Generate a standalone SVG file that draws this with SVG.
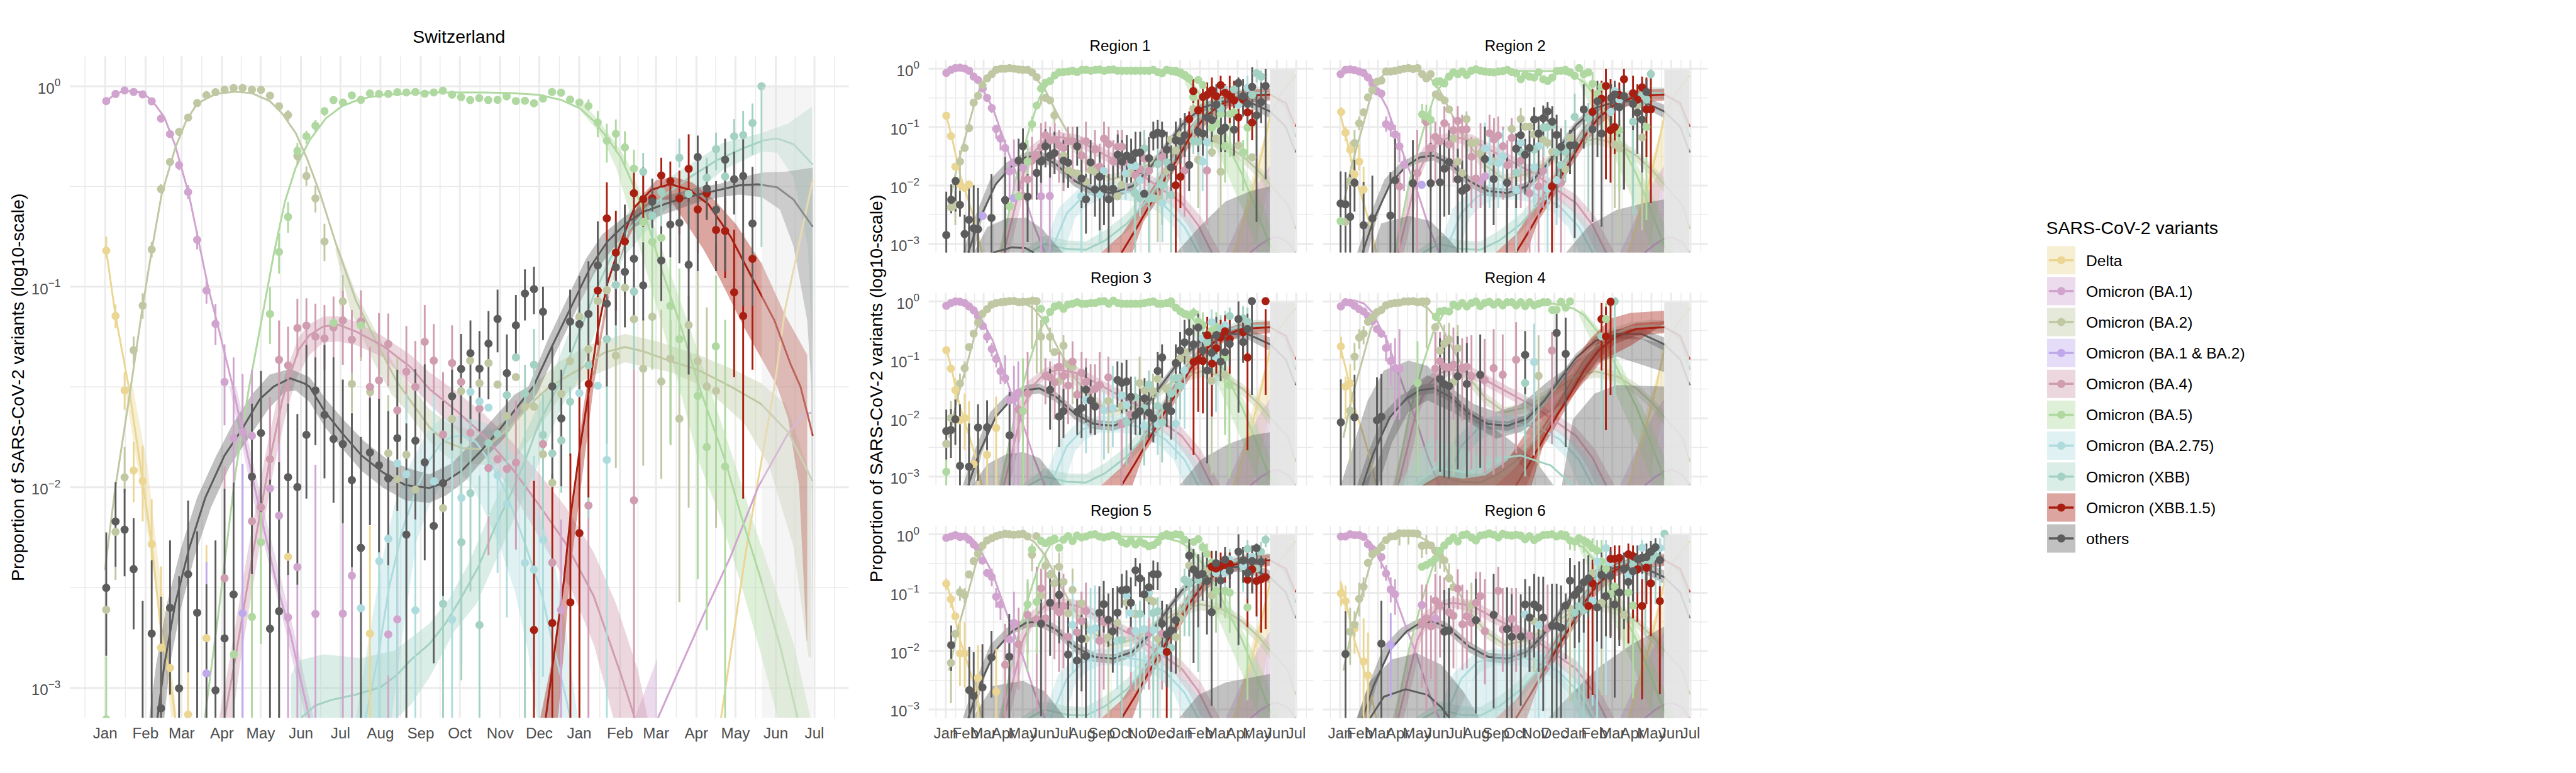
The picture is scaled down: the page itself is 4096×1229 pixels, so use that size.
<svg xmlns="http://www.w3.org/2000/svg" width="4096" height="1229" viewBox="0 0 4096 1229">
<style>
text{font-family:"Liberation Sans",Arial,sans-serif;fill:#4d4d4d;font-size:35.5px}
.t{fill:#000;font-size:41.67px}.rt{fill:#000;text-anchor:middle;font-size:35.5px}.k{fill:#000;font-size:36px}
.m{text-anchor:middle}.y{text-anchor:end}.sp{font-size:25px}
.gM{stroke:#ebebeb;stroke-width:4.4;fill:none}.gm{stroke:#ebebeb;stroke-width:2.2;fill:none}
.b,.d,.l{fill:none;vector-effect:non-scaling-stroke}
.b{stroke-width:2.9}.d{stroke-width:13;stroke-linecap:round}.l{stroke-width:3;stroke-linejoin:round}
.s0{stroke:#ebd694}.s1{stroke:#d0a4cf}.s2{stroke:#bfc8a3}.s3{stroke:#bfa8eb}.s4{stroke:#cf9cb0}.s5{stroke:#afd9a0}.s6{stroke:#aedcde}.s7{stroke:#a3d1c3}.s8{stroke:#a81f12}.s9{stroke:#5c5c5c}
.r0{fill:#ebd694;opacity:.4}.r1{fill:#d0a4cf;opacity:.4}.r2{fill:#bfc8a3;opacity:.4}.r4{fill:#cf9cb0;opacity:.4}.r5{fill:#afd9a0;opacity:.4}.r6{fill:#aedcde;opacity:.4}.r7{fill:#a3d1c3;opacity:.4}.r8{fill:#a81f12;opacity:.4}.r9{fill:#5c5c5c;opacity:.38}
.ov{fill:#e3e3e3;opacity:.35}.ovr{fill:#e3e3e3;opacity:.9}
</style>
<defs>
<clipPath id="cm"><rect x="163" y="131" width="1814" height="1541"/></clipPath>
<clipPath id="c1"><rect x="2163" y="140" width="896" height="448.5"/></clipPath>
<clipPath id="c2"><rect x="3081.5" y="140" width="896" height="448.5"/></clipPath>
<clipPath id="c3"><rect x="2163" y="682" width="896" height="448.5"/></clipPath>
<clipPath id="c4"><rect x="3081.5" y="682" width="896" height="448.5"/></clipPath>
<clipPath id="c5"><rect x="2163" y="1224.5" width="896" height="448"/></clipPath>
<clipPath id="c6"><rect x="3081.5" y="1224.5" width="896" height="448"/></clipPath>
<g id="rg">
<path class="gm" d="M2180 140V588M2226 140V588M2270 140V588M2314 140V588M2360 140V588M2405 140V588M2451 140V588M2497 140V588M2543 140V588M2588 140V588M2634 140V588M2680 140V588M2726 140V588M2772 140V588M2816 140V588M2860 140V588M2905 140V588M2951 140V588M2997 140V588M3043 140V588M2163 228H3059M2163 364H3059M2163 500H3059"/>
<path class="gM" d="M2203 140V588M2249 140V588M2291 140V588M2337 140V588M2382 140V588M2428 140V588M2474 140V588M2520 140V588M2566 140V588M2611 140V588M2657 140V588M2702 140V588M2749 140V588M2795 140V588M2837 140V588M2883 140V588M2928 140V588M2974 140V588M3019 140V588M2163 160H3059M2163 296H3059M2163 432H3059M2163 568H3059"/>
</g>
<g id="rc">
<path class="r0" d="M1370 1362L1440 900 1502 570V850L1480 1100 1440 1362Z"/>
<path class="r1" d="M1340 1362L1400 1150 1460 950 1502 850V1362Z"/>
<path class="r2" d="M760 640L850 820 920 900 1000 870 1100 770 1180 690 1250 660 1330 690 1400 760 1460 850 1502 920V1010L1460 920 1400 830 1330 755 1250 725 1180 755 1100 835 1000 935 920 960 850 890 760 720Z"/>
<path class="r4" d="M510 1362L550 1100 580 900 620 745 680 670 730 650 800 665 870 725 950 795 1030 865 1100 940 1180 1020 1250 1150 1320 1362H1255L1210 1220 1160 1110 1090 1020 1020 935 950 865 870 795 800 735 730 710 680 735 640 800 610 920 590 1100 550 1362Z"/>
<path class="r5" d="M1200 320L1270 450 1340 640 1420 900 1480 1100 1540 1362H1460L1400 1100 1320 800 1250 560 1190 360Z"/>
<path class="r6" d="M670 1362L730 1100 800 990 880 950 960 950 1040 970 1130 1050 1200 1150 1260 1270 1300 1362H1190L1150 1210 1100 1130 1040 1070 960 1050 880 1050 830 1090 790 1160 750 1362Z"/>
<path class="r7" d="M590 1362L680 1260 760 1290 830 1295 900 1230 980 1130 1050 990 1120 840 1180 670 1240 530 1300 440 1380 400 1460 385 1502 390V460L1460 455 1380 465 1300 530 1240 620 1180 770 1120 940 1060 1090 980 1240 900 1340 880 1362Z"/>
<path class="r8" d="M885 1362L960 1255 1020 1110 1080 960 1140 800 1200 640 1260 520 1320 450 1400 405 1502 395V465L1400 480 1320 530 1260 620 1210 730 1160 860 1100 1030 1040 1180 1000 1362Z"/>
<path class="r9" d="M380 1362L420 1170 480 930 540 830 610 770 660 762 720 810 790 910 860 975 930 985 1000 945 1060 845 1120 715 1180 585 1250 485 1330 440 1420 440 1502 490V570L1420 500 1330 500 1250 535 1180 640 1120 770 1060 900 1000 1000 930 1040 860 1030 790 975 720 870 660 820 610 830 540 880 490 990 450 1170 420 1362Z"/>
<path class="l s0" d="M320 555L340 680 370 900 400 1050 430 1210 450 1362M1370 1362L1430 1050 1475 760 1502 560 1540 430 1595 318"/>
<path class="l s1" d="M320 305L340 282 370 272 405 290 435 340 460 420 490 510 520 650 560 830 600 1000 640 1200 680 1362M1430 1362L1470 1310 1502 1280 1530 1270 1568 1300 1595 1362"/>
<path class="l s2" d="M330 1080L360 850 400 620 430 440 460 340 490 295 540 280 600 285 640 320 680 400 730 560 790 730 850 850 920 930 1000 900 1100 800 1180 720 1250 690 1330 720 1400 790 1460 880 1502 960 1568 1080 1595 1222"/>
<path class="l s5" d="M520 1362L570 950 620 650 660 450 700 340 750 300 850 290 1100 292 1170 320 1210 360 1260 460 1320 640 1400 900 1450 1100 1502 1320 1520 1362"/>
<path class="l s4" d="M530 1362L570 1100 600 900 640 770 680 700 730 680 800 700 870 760 950 830 1030 900 1100 980 1180 1070 1240 1200 1290 1362"/>
<path class="l s6" d="M700 1362L760 1130 820 1030 880 1000 960 1000 1040 1020 1120 1090 1190 1210 1240 1362"/>
<path class="l s7" d="M620 1362L680 1310 760 1340 830 1345 900 1290 980 1190 1060 1040 1120 890 1180 720 1240 570 1300 480 1380 430 1460 420 1502 425 1560 500 1595 680"/>
<path class="l s8" d="M960 1362L1010 1230 1060 1090 1110 950 1160 820 1210 680 1260 570 1320 490 1400 440 1502 430 1560 480 1595 620"/>
<path class="l s9" d="M400 1362L440 1170 500 960 560 850 610 800 660 790 720 840 790 940 860 1000 930 1010 1000 970 1060 870 1120 740 1180 610 1250 510 1330 470 1420 470 1502 530 1560 620 1595 772"/>
</g>
</defs>
<g transform="scale(.68267)">
<g id="main-grid">
<path class="gm" d="M198 131V1672M292 131V1672M381 131V1672M470 131V1672M562 131V1672M654 131V1672M747 131V1672M840 131V1672M933 131V1672M1025 131V1672M1118 131V1672M1210 131V1672M1303 131V1672M1397 131V1672M1486 131V1672M1575 131V1672M1667 131V1672M1760 131V1672M1852 131V1672M1944 131V1672M163 434.5H1977M163 901H1977M163 1368.5H1977"/>
<path class="gM" d="M245 131V1672M339 131V1672M423 131V1672M517 131V1672M607 131V1672M701 131V1672M793 131V1672M886 131V1672M980 131V1672M1071 131V1672M1165 131V1672M1256 131V1672M1349 131V1672M1444 131V1672M1528 131V1672M1622 131V1672M1713 131V1672M1807 131V1672M1897 131V1672M163 201H1977M163 667.6H1977M163 1134.8H1977M163 1602H1977"/>
</g>
<g id="main-panel" clip-path="url(#cm)"><g transform="scale(.6378,.574)">
<path class="r0" d="M485 1568L540 1900 575 2250 610 2550 645 2900 625 2913 590 2560 545 2210 510 1950 455 1568Z"/>
<path class="r1" d="M838 1568L935 2078 1045 2568 1115 2913H1145L1075 2568 965 2078 862 1568ZM2318 2913L2400 2673V2913Z"/>
<path class="r2" d="M1230 985L1300 1190 1380 1360 1450 1500 1500 1565 1568 1660 1640 1720 1720 1745 1800 1745 1880 1670 1960 1550 2040 1470 2150 1400 2282 1355 2400 1385 2550 1440 2680 1500 2780 1555 2870 1640 2963 1938V2668H2953L2898 2218 2808 1888 2718 1718 2648 1648 2568 1568 2450 1510 2282 1470 2150 1530 2040 1620 1960 1750 1880 1860 1800 1890 1720 1880 1640 1860 1568 1790 1480 1660 1430 1600 1360 1460 1280 1260 1225 1015Z"/>
<path class="r4" d="M800 2913L840 2668 900 2268 965 1868 1010 1628 1050 1490 1090 1370 1130 1315 1180 1285 1235 1283 1300 1305 1400 1365 1500 1440 1568 1510 1668 1590 1768 1680 1868 1790 1968 1920 2068 2060 2168 2240 2250 2450 2330 2720 2365 2913H2240L2170 2620 2090 2400 1990 2220 1890 2030 1790 1870 1690 1770 1568 1640 1500 1560 1400 1450 1300 1400 1235 1385 1180 1390 1130 1440 1080 1540 1040 1700 1000 1900 940 2268 880 2668 850 2913Z"/>
<path class="r5" d="M2120 410L2180 480 2235 560 2285 640 2330 760 2385 900 2445 1100 2520 1330 2590 1568 2680 1868 2745 2098 2820 2348 2900 2618 2960 2913H2840L2770 2618 2700 2348 2630 2098 2550 1868 2480 1568 2420 1330 2360 1100 2310 900 2250 680 2190 540 2120 450Z"/>
<path class="r6" d="M1300 2913L1360 2500 1400 2250 1440 2050 1490 1900 1568 1740 1610 1700 1688 1685 1780 1720 1880 1850 1960 2050 2020 2250 2060 2500 2110 2913H1960L1930 2650 1880 2400 1830 2230 1780 2100 1720 1960 1680 1920 1620 1950 1568 2050 1520 2200 1480 2500 1430 2913Z"/>
<path class="r7" d="M1062 2913V2740L1090 2680 1180 2655 1320 2670 1440 2640 1568 2530 1640 2430 1710 2290 1790 2080 1860 1900 1950 1680 2000 1568 2060 1400 2130 1200 2190 1040 2260 900 2340 810 2430 730 2530 660 2640 580 2782 540 2880 500 2966 432V1400L2950 1000 2898 720 2838 620 2782 615 2640 690 2530 790 2430 850 2350 950 2280 1040 2220 1170 2190 1300 2100 1568 2050 1650 1960 1900 1880 2100 1800 2300 1740 2450 1660 2560 1568 2750 1500 2860 1450 2913Z"/>
<path class="r8" d="M2038 2913L2088 2268 2168 1568 2193 1400 2228 1180 2288 960 2338 800 2398 730 2458 718 2528 740 2608 810 2688 910 2782 1070 2868 1280 2948 1440V2600H2946L2918 1968 2878 1698 2838 1568 2718 1330 2628 1130 2568 1010 2508 910 2448 810 2398 810 2348 850 2298 960 2248 1100 2208 1250 2168 1500 2143 1568 2128 1668 2078 2168 2018 2668 1973 2913Z"/>
<path class="r9" d="M545 2913L570 2698 610 2448 660 2228 720 2018 790 1848 850 1720 920 1600 985 1520 1060 1497 1130 1530 1190 1620 1260 1710 1330 1790 1410 1860 1490 1900 1568 1925 1650 1880 1720 1800 1800 1700 1880 1600 1930 1568 2000 1380 2068 1220 2140 1050 2200 950 2280 880 2350 830 2450 790 2550 760 2630 745 2700 722 2782 700 2868 697 2968 680V2913L2963 1568 2948 1300 2898 1000 2848 850 2782 800 2700 790 2630 800 2550 820 2450 860 2360 895 2290 940 2230 1020 2170 1110 2100 1270 2030 1430 1960 1600 1910 1670 1840 1780 1770 1860 1700 1950 1630 2010 1568 2040 1480 2030 1400 1980 1320 1910 1250 1820 1185 1730 1130 1630 1080 1585 1040 1590 980 1660 900 1790 840 1890 770 2060 710 2260 660 2470 620 2700 600 2913Z"/>
<path class="l s0" d="M388 1017L422 1282 470 1568 521 1952 554 2208 588 2560 621 2750 640 2913M2633 2913L2728 2208 2828 1568 2868 1250 2968 730"/>
<path class="l s1" d="M388 410L422 381 455 368 521 375 560 415 600 475 640 590 690 790 720 950 760 1165 800 1340 850 1568 885 1748 950 2078 1010 2368 1060 2568 1100 2768 1130 2913M2403 2913L2468 2748 2568 2498 2668 2258 2768 1978 2878 1758 2938 1678 2963 1675"/>
<path class="l s2" d="M383 2313L420 1988 478 1568 520 1250 555 1010 590 790 640 600 680 490 720 420 790 380 860 372 920 378 985 410 1030 460 1080 540 1120 640 1170 790 1230 1000 1300 1220 1380 1400 1450 1550 1500 1628 1568 1733 1628 1793 1688 1818 1768 1823 1868 1728 1948 1628 2008 1568 2128 1490 2208 1430 2282 1408 2348 1425 2448 1465 2548 1500 2668 1568 2778 1638 2878 1753 2968 1953"/>
<path class="l s4" d="M820 2913L860 2668 920 2268 985 1868 1030 1628 1055 1535 1090 1420 1130 1360 1180 1325 1235 1317 1300 1345 1400 1405 1500 1490 1568 1578 1668 1668 1768 1768 1868 1898 1968 2048 2068 2208 2168 2418 2268 2738 2318 2913"/>
<path class="l s5" d="M748 2913L800 2468 860 1918 910 1568 960 1270 1000 1030 1040 820 1080 680 1130 570 1190 480 1250 430 1320 400 1400 385 1568 375 1768 375 1868 378 1968 385 2048 405 2118 440 2168 490 2218 560 2268 640 2308 740 2358 880 2418 1100 2488 1330 2553 1568 2648 1868 2708 2098 2778 2348 2848 2618 2913 2913"/>
<path class="l s6" d="M1335 2913L1380 2668 1420 2388 1470 2148 1520 1988 1568 1868 1608 1803 1648 1773 1688 1768 1738 1793 1798 1888 1848 1998 1918 2208 1978 2408 2018 2608 2058 2788 2083 2913"/>
<path class="l s7" d="M1100 2913L1150 2863 1210 2840 1300 2818 1390 2788 1450 2738 1500 2678 1568 2613 1628 2528 1688 2418 1748 2298 1808 2138 1868 1998 1918 1868 1968 1718 2038 1568 2108 1370 2168 1200 2228 1050 2288 940 2348 870 2428 790 2518 720 2618 650 2718 600 2788 570 2838 562 2898 585 2968 668"/>
<path class="l s8" d="M1993 2913L2028 2618 2058 2368 2083 2098 2118 1818 2153 1568 2183 1340 2218 1150 2268 980 2318 840 2378 770 2448 747 2518 770 2588 830 2668 960 2748 1130 2828 1300 2888 1480 2923 1568 2953 1698 2968 1768"/>
<path class="l s9" d="M575 2913L600 2698 640 2448 690 2228 750 2018 820 1848 880 1748 950 1618 1000 1568 1060 1535 1110 1555 1130 1568 1185 1668 1250 1758 1320 1848 1400 1918 1480 1968 1568 1980 1618 1960 1688 1908 1758 1828 1828 1738 1898 1638 1948 1568 2018 1400 2088 1240 2158 1080 2218 980 2288 905 2348 860 2448 820 2548 790 2628 770 2698 752 2768 748 2838 760 2898 810 2968 920"/>
<path class="b s0" d="M388 960V1048M422 1235V1332M455 1510V1663M488 1793V2038M521 1808V2116M554 2026V2273M588 2298V2913M621 2640V2821M687 2728V2913M754 2211V2300M1351 2133V2913"/>
<path class="b s1" d="M654 650V690M687 750V808M720 938V1012M754 1128V1232M787 1233V1400M820 1397V1726M853 1450V1958M886 1518V1790M920 1500V1800M986 1611V2000M1019 1716V2300M1052 2333V2913M1086 2373V2913M1152 1886V2913M1252 2123V2913M1285 2301V2913M1418 2296V2913M1451 2338V2913M2049 2108V2913"/>
<path class="b s2" d="M422 2300V2353M455 1814V2000M488 1365V1480M521 1190V1293M554 982V1045M588 747V785M1052 447V490M1086 605V670M1119 675V755M1152 752V862M1185 908V1060M1252 1115V1330M1318 1230V1465M1285 1510V1673M1418 1603V2343M1451 1450V2340M2249 1330V1898M2349 1290V1890M2415 1256V1943M2449 1300V1806M2481 1568V2443M2515 1200V2060M2548 1100V1700M2581 1247V1800M2615 1568V2141"/>
<path class="b s3" d="M754 2280V2371M886 1883V2913"/>
<path class="b s4" d="M1019 1300V1800M1052 1325V1640M1086 1212V1445M1119 1210V1445M1152 1232V1510M1185 1238V1500M1218 1203V1452M1252 1180V1480M1285 1258V1512M1318 1178V1450M1351 1408V1700M1384 1270V1620M1418 1272V1568M1484 1323V1700M1517 1383V1760M1551 1238V1568M820 1893V1983M920 1920V2330M986 1611V1943M1584 1315V1600M1651 1320V1600M1618 1510V1850M1718 1568V1850M1784 2093V2253M1884 1625V2230M2315 1430V2913M2149 2018V2913"/>
<path class="b s5" d="M388 2663V2913M854 2600V2913M920 2331V2913M953 2076V2613M986 1165V1395M1019 945V1110M1052 820V945M1086 580V645M1119 530V583M1152 487V535M1185 435V470M2149 403V450M2183 450V557M2216 502V660M2249 485V615M2282 533V680M2315 608V760M2349 780V980M2382 925V1500M2415 880V1200M2448 1048V1800M2481 1090V1600M2548 1568V2350M2581 1568V2558M2615 1118V2000M2648 1298V2913"/>
<path class="b s6" d="M1384 2190V2913M1418 2295V2740M1451 2075V2913M1318 2300V2913M1484 1600V2913M1517 2110V2913M1651 1700V2913M1585 1600V2000M1685 1720V2700M1817 1900V2325M1851 1840V2505M1917 2000V2913M1950 1850V2300M1983 1860V2745M2116 1600V1650M2216 1568V2913"/>
<path class="b s7" d="M1618 1900V2913M1685 1730V2760M1718 1600V2400M1751 1930V2913M1784 1800V2090M1851 1650V2300M1917 1480V2913M1950 1335V1640M1983 1600V2150M2017 1800V2050M2050 1570V2000M2082 1568V1850M2149 1700V2100M2216 1400V1800M2249 1000V1400M2315 1100V1500M2349 620V800M2382 800V1000M2415 790V920M2481 563V680M2515 800V1100M2581 640V800M2615 538V690M2648 620V780M2681 483V870M2714 450V700M2748 420V628M2781 350V1002"/>
<path class="b s8" d="M2183 1000V1400M2216 740V1180M2249 855V1260M2282 832V1200M2315 700V1000M2349 680V920M2415 640V790M2448 655V830M2481 692V950M2515 545V820M2548 750V1025M2581 750V892M2615 990V1100M2648 800V1128M2681 932V1530M2714 945V2023M2748 1240V1500M1950 1951V2913M2017 1923V2913M2083 1840V2913M2116 1568V2913M2149 1400V2018"/>
<path class="b s9" d="M388 2160V2661M422 1956V2300M455 1983V2338M488 2103V2553M521 2438V2913M554 2273V2913M588 2421V2913M621 2193V2818M654 2338V2913M687 2031V2728M720 2156V2913M754 2371V2913M787 2193V2913M820 1983V2913M853 1958V2913M920 1638V2330M953 1505V2078M986 1946V2913M1019 1876V2913M1052 1638V2333M1086 1680V2373M1119 1400V2023M1152 1450V1806M1185 1400V1941M1218 1450V2040M1252 1540V2123M1285 1676V2301M1318 1773V2913M1351 1615V2131M1384 1618V2241M1418 1668V2293M1451 1500V2073M1484 1718V2913M1517 1498V2108M1551 1478V2273M1584 1758V2691M1618 1628V2418M1651 1500V1828M1684 1355V1800M1718 1300V1700M1751 1343V1750M1784 1262V1620M1817 1175V1430M1851 1357V1700M1884 1197V1450M1917 1093V1300M1950 1082V1275M1983 1163V1380M2017 1400V1974M2050 1500V1973M2082 1175V1430M2116 1120V1600M2149 1060V1500M2183 898V1200M2216 975V1568M2249 898V1320M2282 830V1328M2315 860V1300M2349 983V1300M2382 725V925M2415 918V1222M2448 770V1045M2481 780V1068M2515 805V1520M2548 550V1100M2581 675V892M2615 735V1100M2648 563V1100M2681 615V870M2714 565V1240M2748 677V1240"/>
<path class="d s0" d="M388 1017h0M422 1282h0M455 1584h0M488 1909h0M521 1952h0M554 2208h0M588 2628h0M621 2710h0M687 2899h0M754 2589h0M1052 2259h0M1351 2571h0"/>
<path class="d s1" d="M388 410h0M422 381h0M455 367h0M488 373h0M521 383h0M554 411h0M588 481h0M621 544h0M654 670h0M687 779h0M720 973h0M754 1179h0M787 1314h0M820 1550h0M853 1778h0M886 1754h0M920 1768h0M986 1982h0M1019 2092h0M1052 2505h0M1086 2301h0M1152 2491h0M1252 2490h0M1285 2336h0M1418 2574h0M1451 2513h0M2049 2475h0"/>
<path class="d s2" d="M388 2474h0M422 2158h0M455 1937h0M488 1421h0M521 1240h0M554 1012h0M588 767h0M621 657h0M654 535h0M687 477h0M720 418h0M754 386h0M787 374h0M820 364h0M853 357h0M886 357h0M920 364h0M953 365h0M986 388h0M1019 431h0M1052 467h0M1086 633h0M1119 714h0M1152 805h0M1185 980h0M1252 1223h0M1318 1318h0M1285 1558h0M1352 1590h0M1418 1839h0M1451 1944h0M1484 1845h0M1517 1986h0M1618 2062h0M1651 1700h0M1684 1587h0M1717 1463h0M1751 1555h0M1784 1473h0M1817 1560h0M1851 1688h0M1884 1530h0M1917 1651h0M1950 1650h0M1983 1843h0M2017 1959h0M2050 1598h0M2082 1465h0M2116 1285h0M2149 1417h0M2183 1221h0M2216 1178h0M2249 1443h0M2282 1167h0M2315 1295h0M2349 1496h0M2382 1285h0M2415 1548h0M2448 1455h0M2481 1699h0M2515 1319h0M2548 1465h0M2581 1568h0M2615 1586h0"/>
<path class="d s3" d="M754 2732h0M886 2488h0"/>
<path class="d s4" d="M1019 1460h0M1052 1483h0M1086 1331h0M1119 1321h0M1152 1366h0M1185 1373h0M1218 1329h0M1252 1300h0M1285 1378h0M1318 1304h0M1351 1570h0M1384 1543h0M1418 1396h0M1484 1508h0M1517 1570h0M1551 1387h0M820 2346h0M920 2115h0M953 2058h0M986 1863h0M1451 1665h0M1584 1463h0M1651 1473h0M1684 1550h0M1618 1763h0M1718 1756h0M1751 1658h0M1784 1899h0M1817 1863h0M1851 1903h0M1884 1877h0M1983 1802h0M2017 2283h0M2149 2051h0M2315 2030h0"/>
<path class="d s5" d="M388 2918h0M854 2655h0M920 2503h0M953 2200h0M986 1274h0M1019 1022h0M1052 880h0M1086 612h0M1119 553h0M1152 510h0M1185 451h0M1218 406h0M1252 416h0M1285 387h0M1318 405h0M1351 379h0M1384 381h0M1418 381h0M1451 374h0M1484 375h0M1517 373h0M1551 380h0M1218 1310h0M1318 1320h0M1584 375h0M1617 368h0M1651 384h0M1684 394h0M1717 406h0M1750 398h0M1783 406h0M1817 405h0M1850 391h0M1884 410h0M1917 409h0M1950 419h0M1983 400h0M2016 373h0M2049 376h0M2082 404h0M2116 416h0M2149 430h0M2183 497h0M2216 571h0M2249 543h0M2282 598h0M2315 684h0M2349 900h0M2382 981h0M2415 965h0M2448 1241h0M2481 1376h0M2548 1606h0M2581 1814h0M2614 1405h0M2648 1893h0"/>
<path class="d s6" d="M1418 2186h0M1385 2277h0M1318 2468h0M1451 1880h0M1484 1924h0M1517 2476h0M1585 1953h0M1651 2514h0M1685 2020h0M1718 1590h0M1751 1629h0M1784 1654h0M1817 1928h0M1851 2046h0M1917 2284h0M1950 2311h0M1983 2190h0M2116 1595h0M2183 1565h0M2216 1866h0"/>
<path class="d s7" d="M1618 2450h0M1685 2200h0M1718 2001h0M1751 2536h0M1784 1798h0M1817 1761h0M1851 1603h0M1884 1450h0M1917 1596h0M1950 1480h0M1983 1765h0M2017 1840h0M2050 1787h0M2082 1630h0M2149 1482h0M2216 1376h0M2249 1156h0M2315 1183h0M2349 697h0M2382 875h0M2415 778h0M2481 640h0M2515 787h0M2581 721h0M2615 605h0M2648 716h0M2681 553h0M2714 548h0M2748 499h0M2781 350h0"/>
<path class="d s8" d="M2150 1558h0M2183 1179h0M2216 886h0M2249 1025h0M2282 980h0M2315 784h0M2349 808h0M2382 805h0M2415 712h0M2448 735h0M2481 805h0M2515 685h0M2548 850h0M2581 785h0M2615 933h0M2648 937h0M2681 1186h0M2714 1282h0M2748 1050h0M1950 2556h0M2017 2528h0M2083 2444h0M2116 2163h0"/>
<path class="d s9" d="M388 2385h0M422 2116h0M455 2149h0M488 2309h0M554 2571h0M588 2874h0M621 2466h0M654 2793h0M687 2330h0M720 2486h0M787 2801h0M820 2590h0M853 2412h0M920 1934h0M953 1757h0M986 2551h0M1019 2480h0M1052 1936h0M1086 1976h0M1119 1764h0M1152 1584h0M1185 1683h0M1218 1781h0M1252 1802h0M1285 1948h0M1318 2223h0M1351 1836h0M1384 1888h0M1418 1941h0M1451 1778h0M1484 2169h0M1517 1788h0M1551 1876h0M1584 2134h0M1618 1960h0M1651 1608h0M1684 1497h0M1718 1433h0M1751 1496h0M1784 1394h0M1817 1294h0M1851 1514h0M1884 1320h0M1917 1191h0M1950 1173h0M1983 1265h0M2017 1568h0M2050 1698h0M2082 1305h0M2116 1315h0M2149 1274h0M2183 1077h0M2216 1232h0M2249 1085h0M2282 1103h0M2315 1050h0M2349 1158h0M2382 818h0M2415 1057h0M2448 911h0M2481 904h0M2515 1074h0M2548 637h0M2581 765h0M2615 851h0M2648 648h0M2681 727h0M2714 714h0M2748 907h0"/>
</g><rect class="ov" x="1774" y="202" width="118" height="1470"/></g>
<g id="main-text">
<text class="t m" x="1069" y="99">Switzerland</text>
<text class="t m" transform="translate(55 902) rotate(-90)">Proportion of SARS-CoV-2 variants (log10-scale)</text>
<text class="y" x="141" y="218">10<tspan class="sp" dy="-17">0</tspan></text>
<text class="y" x="141" y="685">10<tspan class="sp" dy="-17">−1</tspan></text>
<text class="y" x="141" y="1152">10<tspan class="sp" dy="-17">−2</tspan></text>
<text class="y" x="141" y="1619">10<tspan class="sp" dy="-17">−3</tspan></text>
<text class="m" x="245" y="1720">Jan</text><text class="m" x="339" y="1720">Feb</text><text class="m" x="423" y="1720">Mar</text><text class="m" x="517" y="1720">Apr</text><text class="m" x="607" y="1720">May</text><text class="m" x="701" y="1720">Jun</text><text class="m" x="793" y="1720">Jul</text><text class="m" x="886" y="1720">Aug</text><text class="m" x="980" y="1720">Sep</text><text class="m" x="1071" y="1720">Oct</text><text class="m" x="1165" y="1720">Nov</text><text class="m" x="1256" y="1720">Dec</text><text class="m" x="1349" y="1720">Jan</text><text class="m" x="1444" y="1720">Feb</text><text class="m" x="1528" y="1720">Mar</text><text class="m" x="1622" y="1720">Apr</text><text class="m" x="1713" y="1720">May</text><text class="m" x="1807" y="1720">Jun</text><text class="m" x="1897" y="1720">Jul</text>
</g>
<g id="regions-grid"><use href="#rg"/><use href="#rg" x="918.5"/><use href="#rg" y="542"/><use href="#rg" x="918.5" y="542"/><use href="#rg" y="1084.5"/><use href="#rg" x="918.5" y="1084.5"/></g>
<g id="region-1" clip-path="url(#c1)"><use href="#rc" transform="translate(2000 50) scale(.6378 .3954)"/><g transform="translate(2000 50) scale(.6378 .3954)">
<path class="r9" d="M420 1362L470 1210 540 1160 610 1155 670 1220 745 1362ZM1160 1362L1250 1200 1340 1060 1430 1000 1502 970V1362Z"/><path class="l s9" d="M490 1362L560 1330 610 1335 640 1362"/>
<path class="b s1" d="M469 430V475M486 490V540M502 610V690M518 645V760M535 695V800M567 695V1000M551 820V1050M600 690V1362M666 900V1362M698 900V1362"/>
<path class="b s2" d="M370 760V1000M353 1000V1200M666 440V490M715 510V600M748 720V1000M830 830V1100M1008 900V1250M1092 900V1300M1240 700V1100M1322 700V1300"/>
<path class="b s4" d="M617 780V1200M633 680V1050M666 600V950M682 590V850M699 620V900M716 600V900M732 640V950M748 660V1000M765 620V900M781 620V950M814 680V1000M830 590V880M863 640V1000M880 720V1100M896 590V850M913 620V920M930 700V1050M946 640V900M962 640V900M979 700V1000M1011 780V1150M1027 750V1100M1044 690V1000M1060 760V1100M1108 690V1050M1190 760V1150M1272 760V1200M600 800V1362"/>
<path class="b s5" d="M617 700V1000M633 560V650M1222 400V520M1290 560V800M1322 500V720M1356 500V800M1420 560V820M1404 700V1000M1338 650V950"/>
<path class="b s6" d="M813 950V1362M880 950V1300M975 780V1050M1027 850V1150M1109 950V1300M1256 730V1000M1272 640V850M1338 420V600M1387 420V600M1420 320V470"/>
<path class="b s7" d="M1043 640V900M1010 940V1362M1060 950V1362M1141 900V1362M1092 750V1050M1125 750V1050M1108 900V1200M1222 620V780M1240 620V790M1322 450V620M1437 380V550M1453 280V360M1470 290V370"/>
<path class="b s8" d="M1158 850V1362M1175 800V1100M1207 530V750M1222 340V480M1240 460V650M1257 370V560M1273 360V530M1290 330V520M1306 390V530M1322 320V440M1338 370V520M1355 320V600M1371 350V560M1387 490V740M1404 380V540M1420 470V640M1437 520V700"/>
<path class="b s9" d="M320 1003V1362M338 960V1130M354 915V1120M370 1000V1150M387 1140V1362M403 970V1362M420 965V1362M436 980V1362M485 900V1362M535 800V1362M584 690V1000M600 630V860M617 900V1300M650 800V1050M666 720V950M682 635V860M699 680V920M715 650V900M748 700V950M765 720V980M798 620V850M814 800V1100M830 900V1250M847 700V960M863 870V1150M880 770V1230M896 850V1200M913 900V1362M929 850V1150M946 665V920M962 700V950M979 670V950M995 690V950M1011 650V900M1028 650V900M1060 680V950M1076 590V760M1092 580V750M1108 590V750M1125 650V880M1141 730V1000M1158 590V830M1175 570V840M1191 540V800M1207 720V1000M1240 540V770M1257 550V790M1273 450V700M1290 470V710M1306 370V620M1323 530V770M1338 500V770M1371 510V790M1387 330V490M1404 340V560M1420 380V600M1437 270V510M1453 430V1180M1470 360V600M1486 280V930"/>
<path class="d s0" d="M320 555h0M337 675h0M353 855h0M370 960h0M387 980h0M403 960h0"/>
<path class="d s1" d="M320 303h0M337 285h0M353 275h0M370 272h0M387 277h0M403 290h0M420 325h0M436 345h0M453 395h0M469 450h0M486 510h0M502 633h0M518 690h0M535 745h0M551 883h0M567 830h0M600 862h0M666 1030h0M698 1028h0"/>
<path class="d s2" d="M337 1095h0M353 1080h0M370 825h0M387 745h0M403 628h0M420 478h0M436 438h0M452 375h0M469 335h0M486 310h0M502 285h0M520 278h0M535 278h0M551 275h0M568 278h0M585 283h0M600 285h0M617 285h0M633 300h0M650 328h0M682 450h0M699 465h0M715 553h0M748 790h0M765 875h0M781 890h0M798 895h0M848 875h0M862 885h0M830 943h0M945 1030h0M960 963h0M992 895h0M1008 1012h0M1092 1045h0M1125 880h0M1140 695h0M1158 760h0M1175 670h0M1222 515h0M1240 815h0M1290 770h0M1305 690h0M1322 885h0M1387 730h0M1437 800h0"/>
<path class="d s3" d="M453 1145h0M567 1040h0"/>
<path class="d s4" d="M617 930h0M600 1028h0M633 820h0M650 790h0M666 740h0M682 670h0M699 700h0M716 695h0M732 730h0M748 745h0M765 705h0M781 705h0M814 790h0M830 705h0M863 752h0M880 855h0M896 690h0M913 722h0M930 825h0M946 738h0M962 738h0M979 825h0M1011 905h0M1027 870h0M1044 808h0M1060 880h0M1108 800h0M1190 878h0M1272 878h0"/>
<path class="d s5" d="M551 1090h0M584 1030h0M617 825h0M633 605h0M650 495h0M666 395h0M682 362h0M699 350h0M716 318h0M732 300h0M748 298h0M765 295h0M781 290h0M798 298h0M815 285h0M831 285h0M848 290h0M864 285h0M880 283h0M897 290h0M913 285h0M930 283h0M946 290h0M962 290h0M979 290h0M995 290h0M1011 290h0M1028 290h0M1044 290h0M1060 290h0M1076 285h0M1092 298h0M1108 305h0M1125 285h0M1141 290h0M1158 290h0M1175 300h0M1191 315h0M1207 335h0M1240 345h0M1257 375h0M1222 445h0M1290 625h0M1305 600h0M1322 545h0M1356 545h0M1371 535h0M1420 625h0M1404 770h0M1338 735h0"/>
<path class="d s6" d="M813 1030h0M880 1018h0M895 880h0M975 895h0M1027 935h0M1109 1070h0M995 850h0M1010 850h0M1256 825h0M1272 710h0M1338 400h0M1387 490h0M1420 390h0"/>
<path class="d s7" d="M1043 748h0M1010 1010h0M1027 1040h0M1060 1045h0M1076 1040h0M1141 1022h0M1092 840h0M1125 830h0M1108 965h0M1222 703h0M1240 708h0M1322 512h0M1437 432h0M1453 305h0M1470 325h0M1371 400h0"/>
<path class="d s8" d="M1158 965h0M1175 915h0M1207 575h0M1222 410h0M1240 523h0M1257 445h0M1273 432h0M1290 405h0M1306 440h0M1322 375h0M1338 420h0M1355 440h0M1371 465h0M1387 565h0M1404 460h0M1420 535h0M1437 595h0"/>
<path class="d s9" d="M320 1258h0M338 1050h0M354 940h0M370 1080h0M387 1252h0M403 1168h0M420 1218h0M436 1224h0M485 1157h0M535 1052h0M584 820h0M600 735h0M617 1032h0M650 892h0M666 825h0M682 735h0M699 790h0M715 775h0M748 820h0M765 832h0M798 735h0M814 925h0M830 1048h0M847 830h0M880 915h0M863 990h0M896 985h0M913 1048h0M929 985h0M946 785h0M962 825h0M979 790h0M995 815h0M1011 775h0M1028 772h0M1043 1015h0M1060 805h0M1076 668h0M1092 655h0M1108 660h0M1125 755h0M1141 860h0M1158 700h0M1175 705h0M1191 670h0M1207 845h0M1240 650h0M1257 660h0M1273 565h0M1290 580h0M1306 490h0M1323 645h0M1338 625h0M1371 637h0M1387 362h0M1404 440h0M1420 485h0M1437 385h0M1453 553h0M1470 475h0M1486 380h0"/>
</g><rect class="ovr" x="2958" y="162" width="58.5" height="427"/></g>
<g id="region-2" clip-path="url(#c2)"><use href="#rc" transform="translate(2918.5 50) scale(.6378 .3954)"/><g transform="translate(3000 50) scale(.6378 .3954)">
<path class="r9" d="M305 1362L340 1190 440 1145 520 1175 580 1270 630 1362ZM1015 1362L1100 1200 1200 1110 1300 1070 1374 1048V1362Z"/>
<path class="b s0" d="M194 505V560M210 620V705M227 710V790M243 850V940M260 725V880M276 855V1100"/>
<path class="b s1" d="M358 560V650M375 570V680M391 610V720M407 655V830M424 790V1000M720 900V1362"/>
<path class="b s2" d="M227 880V1040M243 640V820M260 560V640M604 660V760M620 770V900M652 530V800M670 680V1000M817 590V850M850 510V640M1030 640V800M1193 640V1100M1210 680V1300M1293 650V1230"/>
<path class="b s4" d="M407 900V1362M472 640V1362M505 560V800M521 620V1000M538 590V950M555 620V950M571 500V880M588 600V1000M604 560V950M620 500V820M636 550V1000M652 560V1000M670 680V1100M686 700V1362M703 600V1100M736 550V950M752 570V1050M768 560V950M785 620V1050M801 700V1100M817 570V1000M850 690V1100M882 840V1362M915 830V1362M932 740V1100M997 800V1362"/>
<path class="b s5" d="M490 485V600M505 490V610M521 500V660M540 330V390M1112 300V420M1210 580V1000M1309 560V1170"/>
<path class="b s6" d="M719 595V900M736 650V1100M768 700V1100M785 640V1000M833 850V1362M850 610V850M899 730V1100M948 820V1362M981 780V1200M1178 420V800M1193 360V500M1210 400V540"/>
<path class="b s7" d="M1047 425V570M1097 480V1120M997 720V1000M981 660V900M1013 580V950M899 650V900M933 500V800M948 500V750M965 500V780M833 820V1000M850 690V900M1260 450V1140M1293 350V600M1309 380V560M1325 280V370"/>
<path class="b s8" d="M964 760V1362M1112 400V660M1145 350V640M1161 280V930M1178 340V950M1193 370V780M1210 360V520M1227 280V990M1260 320V600M1276 370V760M1293 325V830M1309 330V800M1325 335V1070"/>
<path class="b s9" d="M192 883V1362M210 887V1362M227 900V1362M243 815V1120M276 945V1362M308 908V1362M374 888V1362M391 690V1362M456 700V1362M521 715V1362M555 690V1362M571 700V1150M588 640V1140M620 750V1362M636 820V1362M652 700V1362M719 620V1362M751 780V1200M800 800V1362M833 660V1100M850 580V780M866 690V1020M882 620V950M899 505V760M915 560V900M932 495V700M948 475V590M965 500V820M981 550V1100M997 630V950M1030 640V900M1047 620V1275M1080 370V750M1112 520V1180M1130 350V800M1145 540V1210M1180 370V640M1193 350V530M1210 400V680M1227 370V990M1260 400V640M1276 420V780M1293 470V890M1309 340V560"/>
<path class="d s0" d="M194 533h0M210 655h0M227 755h0M243 900h0M260 825h0M276 990h0"/>
<path class="d s1" d="M192 310h0M210 285h0M227 282h0M243 287h0M260 295h0M276 303h0M292 330h0M308 365h0M325 412h0M341 425h0M358 605h0M375 620h0M391 665h0M407 735h0M424 842h0M703 940h0M720 912h0"/>
<path class="d s2" d="M210 1180h0M227 940h0M243 715h0M260 600h0M276 535h0M292 447h0M308 405h0M325 355h0M341 348h0M358 295h0M375 295h0M391 290h0M407 285h0M424 278h0M440 275h0M457 280h0M473 275h0M490 310h0M505 335h0M521 310h0M540 430h0M555 445h0M572 465h0M588 518h0M604 690h0M620 825h0M636 893h0M652 575h0M670 715h0M686 712h0M703 773h0M750 825h0M817 633h0M850 575h0M866 620h0M882 620h0M898 665h0M930 695h0M948 715h0M965 768h0M1013 870h0M1030 685h0M1193 725h0M1210 748h0M1276 495h0M1293 683h0"/>
<path class="d s3" d="M488 962h0"/>
<path class="d s4" d="M407 972h0M472 893h0M505 592h0M521 745h0M538 680h0M555 705h0M571 600h0M588 725h0M604 640h0M620 585h0M636 638h0M652 635h0M670 797h0M686 925h0M736 658h0M752 695h0M768 672h0M785 735h0M801 847h0M817 685h0M850 820h0M882 1012h0M915 972h0M932 880h0M997 950h0"/>
<path class="d s5" d="M192 1176h0M490 547h0M505 560h0M521 580h0M540 360h0M555 352h0M571 365h0M588 325h0M604 300h0M620 310h0M636 295h0M652 315h0M670 290h0M686 282h0M703 290h0M719 295h0M736 298h0M752 300h0M768 295h0M785 292h0M801 285h0M817 298h0M833 305h0M850 340h0M866 315h0M882 325h0M899 330h0M915 300h0M932 340h0M948 350h0M965 330h0M981 292h0M997 290h0M1013 285h0M1030 300h0M1047 320h0M1063 275h0M1080 310h0M1097 300h0M1112 368h0M1130 425h0M1145 385h0M1210 640h0M1309 622h0"/>
<path class="d s6" d="M719 748h0M736 820h0M768 835h0M785 795h0M833 992h0M850 715h0M899 858h0M915 735h0M948 985h0M981 935h0M1178 533h0M1193 410h0M1210 460h0"/>
<path class="d s7" d="M1047 562h0M1097 570h0M997 845h0M981 770h0M1013 768h0M899 755h0M933 625h0M948 622h0M965 610h0M833 890h0M850 770h0M1260 590h0M1293 437h0M1309 460h0M1325 310h0"/>
<path class="d s8" d="M964 972h0M1112 533h0M1145 455h0M1161 380h0M1178 640h0M1193 622h0M1210 433h0M1227 340h0M1260 423h0M1276 460h0M1293 388h0M1309 518h0M1325 518h0"/>
<path class="d s9" d="M192 1072h0M210 1077h0M227 1150h0M243 950h0M276 1200h0M308 1160h0M374 1143h0M391 935h0M456 953h0M521 953h0M555 948h0M571 867h0M588 828h0M620 930h0M636 998h0M652 980h0M719 810h0M751 928h0M800 950h0M833 750h0M850 670h0M866 785h0M882 745h0M899 577h0M915 660h0M932 570h0M948 530h0M965 590h0M981 668h0M997 738h0M1030 730h0M1047 728h0M1080 518h0M1112 635h0M1130 470h0M1145 660h0M1180 450h0M1193 430h0M1210 505h0M1227 440h0M1260 485h0M1276 537h0M1293 578h0M1309 415h0"/>
</g><rect class="ovr" x="3876.5" y="162" width="58.5" height="427"/></g>
<g id="region-3" clip-path="url(#c3)"><use href="#rc" transform="translate(2000 592.1) scale(.6378 .3954)"/><g transform="translate(2000 620) scale(.6378 .3571)">
<path class="r9" d="M415 1430L470 1290 540 1225 600 1212 660 1250 740 1430ZM1172 1430L1250 1260 1350 1160 1440 1100 1502 1083V1430Z"/>
<path class="b s0" d="M353 730V880M387 830V1200M403 880V1430M436 1000V1430M469 1180V1430M502 850V1430"/>
<path class="b s1" d="M469 420V500M486 500V590M502 570V660M518 630V770M535 580V770M551 800V1430M567 650V1430M583 620V1430"/>
<path class="b s2" d="M337 880V1100M370 700V800M387 620V730M633 250V540M650 250V700M666 350V700M699 400V560M748 450V640M781 560V900M912 780V1220M1026 590V1000M1075 700V1000M1092 640V960M1174 510V820M1289 660V1360M1338 620V1050"/>
<path class="b s4" d="M584 900V1150M617 560V1430M682 600V900M699 620V950M716 640V1000M732 560V900M748 600V950M765 640V1030M781 490V800M798 700V1030M814 560V920M830 600V1000M847 640V1100M863 640V1100M880 560V1050M912 590V950M961 830V1430M994 780V1300"/>
<path class="b s5" d="M320 1250V1430M600 600V1430M1223 270V340M1240 290V440M1257 300V480M1289 350V560M1306 300V520M1338 500V1100M1354 700V1380"/>
<path class="b s6" d="M830 800V1220M896 800V1260M928 650V1180M961 720V1000M978 780V1060M1043 950V1270M1092 900V1230M1158 900V1260M1190 600V1060M1257 360V640M1305 500V950M1289 280V450M1338 290V490"/>
<path class="b s7" d="M978 900V1300M1010 720V1060M1043 800V1300M1060 680V900M1092 780V1100M1108 900V1280M1141 700V1000M1158 620V900M1174 660V1000M1272 420V620M1322 320V560M1355 270V470M1404 260V430M1420 270V430"/>
<path class="b s8" d="M1223 500V1230M1240 480V950M1257 480V960M1273 330V620M1290 400V980M1306 380V700M1322 350V620M1338 320V550M1355 340V700M1404 330V610M1420 450V1200M1486 280V840"/>
<path class="b s9" d="M320 935V1260M337 930V1250M353 870V1165M370 900V1430M403 1025V1430M436 900V1400M469 875V1200M551 820V1430M699 670V1065M732 840V1180M748 800V1120M798 810V1100M814 780V1120M830 660V1020M847 740V1090M863 780V1100M945 620V920M961 630V960M978 610V950M994 720V1200M1011 830V1100M1027 800V1100M1044 730V1000M1060 820V1120M1076 860V1150M1092 560V820M1108 510V730M1125 790V1050M1141 810V1130M1158 510V760M1174 430V700M1190 350V640M1207 330V560M1223 380V640M1240 310V540M1257 430V720M1273 570V1285M1289 430V700M1306 330V600M1322 500V750M1338 430V700M1355 380V650M1387 230V955M1404 370V630M1420 310V560M1436 230V840"/>
<path class="d s0" d="M320 548h0M337 668h0M353 808h0M370 1005h0M387 990h0M420 1290h0M469 1230h0M502 1055h0"/>
<path class="d s1" d="M320 258h0M337 240h0M353 230h0M370 232h0M387 240h0M403 262h0M420 288h0M436 325h0M453 390h0M469 460h0M486 540h0M502 605h0M518 685h0M535 730h0M551 875h0M567 868h0M583 825h0"/>
<path class="d s2" d="M320 1158h0M337 990h0M370 765h0M387 665h0M403 527h0M420 440h0M436 368h0M452 310h0M469 280h0M486 250h0M502 240h0M520 235h0M535 232h0M551 228h0M568 227h0M585 235h0M600 232h0M617 232h0M635 225h0M650 228h0M666 460h0M699 460h0M715 560h0M732 750h0M748 518h0M765 640h0M781 655h0M912 878h0M961 910h0M1026 762h0M1044 810h0M1075 815h0M1092 735h0M1124 800h0M1174 600h0M1191 560h0M1207 610h0M1289 748h0M1338 708h0"/>
<path class="d s4" d="M584 935h0M617 830h0M682 715h0M699 725h0M716 758h0M732 655h0M748 715h0M765 778h0M781 622h0M798 838h0M814 695h0M830 755h0M847 808h0M863 800h0M880 775h0M912 725h0M961 1030h0M994 965h0"/>
<path class="d s5" d="M320 1340h0M600 945h0M666 278h0M682 350h0M699 298h0M716 262h0M732 255h0M748 278h0M765 250h0M781 245h0M798 235h0M815 245h0M831 245h0M848 240h0M864 240h0M880 230h0M897 228h0M913 245h0M930 225h0M946 240h0M962 245h0M979 245h0M995 245h0M1011 245h0M1028 245h0M1044 240h0M1060 235h0M1076 230h0M1092 245h0M1108 245h0M1125 240h0M1141 230h0M1158 270h0M1175 295h0M1191 312h0M1207 320h0M1223 305h0M1240 360h0M1257 385h0M1289 420h0M1306 395h0M1338 595h0M1354 775h0"/>
<path class="d s6" d="M830 872h0M896 940h0M928 925h0M961 843h0M978 905h0M1043 1042h0M1092 1030h0M1158 1027h0M1190 680h0M1257 470h0M1305 600h0M1289 365h0M1338 385h0"/>
<path class="d s7" d="M978 1018h0M1010 855h0M1043 925h0M1060 772h0M1092 912h0M1108 1018h0M1141 830h0M1158 730h0M1174 780h0M1272 495h0M1322 405h0M1355 325h0M1404 340h0M1420 362h0"/>
<path class="d s8" d="M1223 625h0M1240 612h0M1257 618h0M1273 450h0M1290 635h0M1306 535h0M1322 465h0M1338 425h0M1355 475h0M1404 430h0M1420 595h0M1486 228h0"/>
<path class="d s9" d="M320 1075h0M337 1068h0M353 998h0M370 1302h0M403 1308h0M436 1052h0M469 1050h0M551 1103h0M699 805h0M732 980h0M748 945h0M798 950h0M814 925h0M830 805h0M847 875h0M863 915h0M945 742h0M961 760h0M978 752h0M994 852h0M1011 970h0M1027 945h0M1044 862h0M1060 955h0M1076 992h0M1092 683h0M1108 595h0M1125 915h0M1141 945h0M1158 632h0M1174 550h0M1190 497h0M1207 428h0M1223 510h0M1240 400h0M1257 550h0M1273 680h0M1289 565h0M1306 450h0M1322 622h0M1338 560h0M1355 507h0M1387 345h0M1404 495h0M1420 410h0M1436 228h0"/>
</g><rect class="ovr" x="2958" y="704" width="58.5" height="427"/></g>
<g id="region-4" clip-path="url(#c4)"><use href="#rc" transform="translate(2918.5 592.1) scale(.6378 .3954)"/><g transform="translate(3000 620) scale(.6378 .3571)">
<path class="r9" d="M192 1430L290 880 350 680 440 615 510 650 600 830 700 1000 800 1120 900 1260 970 1430ZM1000 1430L1040 1000 1120 830 1200 775 1374 785V1430Z"/>
<path class="r9" d="M270 1430L320 1300 390 1000 450 780 510 710 600 800 680 900 760 950 850 900 950 750 1100 560 1200 430 1374 510V690L1200 590 1130 630 1000 900 850 1080 760 1125 680 1040 600 950 510 875 440 950 380 1150 330 1430Z"/>
<path class="r7" d="M400 1430L520 1120 600 1160 700 1240 830 1240 900 1430Z"/>
<path class="r8" d="M490 1430L550 1365 640 1385 720 1365 800 1270 900 1000 1000 750 1100 480 1180 340 1250 305 1374 290V375L1250 520 1150 610 1060 800 950 1050 890 1430Z"/>
<path class="l s7" d="M460 1430L540 1310 660 1350 780 1250 850 1235 960 1300 1040 1430"/>
<path class="b s0" d="M194 460V600M227 640V900M210 720V1000"/>
<path class="b s1" d="M358 450V620M375 500V780M391 470V1000M407 410V1000"/>
<path class="b s2" d="M227 900V1295M243 500V680M260 410V540M276 390V510M506 240V535M555 470V620M571 380V620M588 370V600M604 690V1365M620 385V700M915 450V1325"/>
<path class="b s4" d="M538 430V1275M555 430V900M571 450V1000M588 450V1030M604 400V1000M636 470V1010M653 460V1000M670 450V1325M718 475V1350M751 410V1360M784 445V1315M833 365V1220M964 430V1160"/>
<path class="b s5" d="M473 490V1370M1161 240V1070"/>
<path class="b s6" d="M899 375V1235"/>
<path class="b s7" d="M866 700V1370M1145 420V1070M1193 230V840"/>
<path class="b s8" d="M1145 240V680M1161 265V1070M1178 232V840"/>
<path class="b s9" d="M193 738V1430M243 708V1430M325 725V1430M341 703V1430M555 470V1340M571 510V1378M588 510V1382M620 455V1325M653 500V1378M702 445V1315M866 423V835M981 310V775M1014 335V1180"/>
<path class="d s0" d="M193 523h0M210 785h0M227 763h0"/>
<path class="d s1" d="M193 262h0M210 235h0M227 238h0M243 258h0M260 280h0M276 295h0M292 325h0M308 360h0M325 410h0M341 440h0M358 533h0M375 618h0M391 665h0M407 668h0"/>
<path class="d s2" d="M227 942h0M243 590h0M260 465h0M276 440h0M292 362h0M308 335h0M325 300h0M341 285h0M358 255h0M375 245h0M391 240h0M407 238h0M424 230h0M440 230h0M457 228h0M473 235h0M490 230h0M506 230h0M538 398h0M555 550h0M571 505h0M588 478h0M604 755h0M620 535h0M915 715h0"/>
<path class="d s4" d="M538 668h0M555 620h0M571 655h0M588 658h0M604 642h0M636 662h0M653 655h0M670 718h0M718 742h0M751 665h0M784 708h0M833 610h0M964 550h0"/>
<path class="d s5" d="M473 762h0M540 330h0M555 295h0M571 290h0M588 295h0M604 250h0M620 262h0M636 240h0M653 262h0M670 240h0M686 230h0M702 260h0M718 240h0M735 232h0M751 250h0M768 235h0M784 255h0M800 235h0M817 235h0M833 255h0M850 235h0M866 260h0M882 235h0M899 255h0M915 245h0M932 235h0M948 235h0M965 285h0M981 285h0M997 232h0M1014 270h0M1030 230h0"/>
<path class="d s6" d="M899 625h0"/>
<path class="d s7" d="M866 762h0M1145 458h0M1193 230h0"/>
<path class="d s8" d="M1145 345h0M1161 458h0M1178 232h0"/>
<path class="d s5" d="M1161 345h0"/>
<path class="d s9" d="M193 1018h0M243 985h0M325 1005h0M341 982h0M555 735h0M571 770h0M588 782h0M620 717h0M653 768h0M702 708h0M866 578h0M981 435h0M1014 572h0"/>
</g><rect class="ovr" x="3876.5" y="704" width="58.5" height="427"/></g>
<g id="region-5" clip-path="url(#c5)"><use href="#rc" transform="translate(2000 1134.6) scale(.6378 .3954)"/><g transform="translate(2000 1150) scale(.6378 .4146)">
<path class="r9" d="M415 1260L490 1080 600 1050 680 1110 755 1260ZM1170 1260L1240 1130 1340 1060 1502 1012V1260Z"/>
<path class="b s0" d="M320 475V540M337 560V640M370 720V1080M387 720V1090M436 850V1260M502 870V1260"/>
<path class="b s1" d="M486 420V520M502 530V640M518 590V710M567 550V1030M551 710V1260"/>
<path class="b s2" d="M337 880V1175M370 520V600M387 530V615M633 300V435M666 440V900M682 330V500M715 400V600M732 330V520M781 420V700M814 550V700M912 780V1260M978 540V680M1060 500V700M1092 700V1100M1174 620V1000M1272 340V600M1289 480V1000"/>
<path class="b s4" d="M535 730V1260M584 640V1100M617 500V900M650 410V1230M666 420V900M682 400V1230M715 500V930M732 450V1000M748 450V980M765 600V1100M797 600V1100M814 550V1030M830 500V1100M879 600V1260M895 570V1100M994 620V1100M1060 600V1100M1108 640V1100"/>
<path class="b s5" d="M617 480V1000M650 440V900M633 280V350M1256 270V340M1272 280V420M1305 500V780M1338 480V700M1355 500V780M1420 580V1160"/>
<path class="b s6" d="M781 500V1000M847 530V1260M863 515V1260M945 700V1100M978 460V700M994 520V1000M1011 620V1100M1043 640V1100M1060 500V700M1076 640V1100M1108 800V1050M1305 350V560M1338 380V540M1355 310V460M1404 300V550M1437 300V430"/>
<path class="b s7" d="M961 740V1260M1027 600V1260M1076 600V1260M1092 580V1260M1141 780V1260M1190 420V800M1207 400V800M1240 400V1000M1420 260V370M1469 270V400M1486 230V300M1453 300V550"/>
<path class="b s8" d="M1125 800V1260M1289 320V560M1305 330V500M1322 330V500M1338 330V500M1355 330V480M1420 300V750M1437 350V550M1453 350V690M1470 380V780M1486 360V760"/>
<path class="b s9" d="M338 740V995M404 860V1260M420 890V1260M452 845V1260M485 770V1145M550 675V1260M666 550V1250M699 430V910M732 440V840M765 600V1260M797 750V1260M830 700V1260M814 680V1110M879 520V820M895 490V780M912 560V860M928 530V1005M945 520V830M961 450V640M978 430V650M994 470V760M1011 360V520M1027 390V580M1043 470V680M1060 440V620M1076 375V540M1092 385V540M1108 600V880M1125 620V1085M1141 640V1000M1158 530V1010M1207 255V465M1223 310V950M1240 340V750M1256 330V600M1272 350V790M1289 430V1190M1305 320V520M1322 370V640M1338 300V470M1355 340V530M1387 228V850M1404 300V500M1420 340V590M1437 290V560M1453 280V400M1470 310V500"/>
<path class="d s0" d="M320 505h0M337 592h0M353 688h0M370 897h0M387 897h0M436 1035h0M502 1112h0"/>
<path class="d s1" d="M320 248h0M337 240h0M353 232h0M370 243h0M387 240h0M403 258h0M420 285h0M436 305h0M452 375h0M469 445h0M486 467h0M502 578h0M518 622h0M567 725h0M551 818h0"/>
<path class="d s2" d="M337 950h0M353 787h0M370 553h0M387 568h0M403 453h0M420 378h0M436 337h0M452 292h0M469 262h0M486 250h0M502 238h0M518 230h0M535 225h0M551 228h0M567 230h0M584 228h0M600 225h0M617 240h0M649 238h0M633 342h0M666 572h0M682 405h0M699 455h0M715 503h0M732 410h0M748 495h0M781 540h0M814 615h0M765 672h0M830 815h0M912 805h0M945 725h0M978 610h0M1010 675h0M1060 588h0M1076 605h0M1092 815h0M1158 805h0M1174 700h0M1207 403h0M1272 435h0M1289 570h0"/>
<path class="d s4" d="M535 960h0M584 845h0M617 680h0M650 705h0M666 532h0M682 700h0M715 633h0M732 665h0M748 632h0M765 803h0M797 778h0M814 715h0M830 658h0M879 825h0M895 720h0M994 770h0M1060 780h0M1108 785h0"/>
<path class="d s5" d="M617 622h0M633 313h0M650 607h0M666 265h0M682 278h0M699 262h0M715 252h0M732 303h0M748 258h0M765 238h0M781 265h0M797 235h0M814 245h0M830 240h0M847 230h0M863 228h0M879 240h0M895 245h0M912 240h0M928 232h0M945 240h0M961 270h0M978 280h0M994 262h0M1011 285h0M1027 268h0M1043 280h0M1060 295h0M1076 288h0M1092 270h0M1108 238h0M1125 228h0M1141 235h0M1158 228h0M1174 230h0M1190 258h0M1223 270h0M1240 255h0M1256 300h0M1272 338h0M1289 385h0M1305 545h0M1338 545h0M1355 555h0M1420 638h0"/>
<path class="d s6" d="M781 737h0M847 765h0M863 755h0M945 825h0M978 570h0M994 670h0M1011 770h0M1043 760h0M1060 555h0M1076 765h0M1108 885h0M1305 445h0M1338 445h0M1355 370h0M1404 405h0M1437 355h0"/>
<path class="d s7" d="M961 820h0M1027 675h0M1076 670h0M1092 660h0M1141 865h0M1190 483h0M1207 500h0M1240 483h0M1420 310h0M1469 325h0M1486 258h0M1453 420h0"/>
<path class="d s8" d="M1125 888h0M1289 410h0M1305 420h0M1322 405h0M1338 400h0M1355 395h0M1420 483h0M1437 425h0M1453 490h0M1470 480h0M1486 468h0"/>
<path class="d s9" d="M338 850h0M404 1103h0M420 1135h0M452 1088h0M485 920h0M550 915h0M666 730h0M699 612h0M732 568h0M765 903h0M797 937h0M830 912h0M814 815h0M879 668h0M895 620h0M912 708h0M928 772h0M945 668h0M961 542h0M978 538h0M994 612h0M1011 430h0M1027 475h0M1043 565h0M1060 525h0M1076 452h0M1092 452h0M1108 730h0M1125 790h0M1141 768h0M1158 710h0M1207 347h0M1223 425h0M1240 455h0M1256 450h0M1272 490h0M1289 665h0M1305 390h0M1322 487h0M1338 370h0M1355 432h0M1387 325h0M1404 375h0M1420 445h0M1437 378h0M1453 305h0M1470 382h0"/>
</g><rect class="ovr" x="2958" y="1246" width="58.5" height="427"/></g>
<g id="region-6" clip-path="url(#c6)"><use href="#rc" transform="translate(2918.5 1134.6) scale(.6378 .3954)"/><g transform="translate(3000 1150) scale(.6378 .4146)">
<path class="r9" d="M250 1260L300 1050 380 930 470 895 560 960 640 1110 700 1260ZM950 1260L1030 1130 1130 980 1250 850 1374 745V1260Z"/>
<path class="r6" d="M610 1260L700 950 850 850 950 900 1100 1260Z"/>
<path class="l s9" d="M300 1260L350 1140 430 1098 510 1130 560 1200 590 1260"/>
<path class="b s0" d="M194 500V630M210 515V700M243 700V900M276 700V1260M292 780V1260"/>
<path class="b s1" d="M341 380V420M358 400V490M375 470V610M391 480V680"/>
<path class="b s2" d="M227 640V960M243 660V800M260 500V690M276 470V580M407 235V290M440 235V285M489 300V360M505 230V340M538 300V440M555 330V420M571 350V440M588 390V500M670 500V700M898 660V1000M1030 580V1170M1145 530V1130M1227 600V1200"/>
<path class="b s3" d="M375 670V1150"/>
<path class="b s4" d="M489 510V1090M505 510V1220M522 570V1040M538 450V1240M555 460V920M571 470V980M588 560V780M604 575V980M620 425V650M637 510V990M653 540V980M670 620V850M686 440V800M702 440V720M719 480V1070M768 410V680M784 530V1000M817 530V1070M833 530V1000M882 690V1000M948 510V1000"/>
<path class="b s5" d="M1030 280V315M1047 280V320M1063 240V300M1080 260V330M1097 250V310M1112 250V320M1129 260V340M1145 260V420M1243 500V850M1260 580V1150M1178 400V760M1193 430V1140"/>
<path class="b s6" d="M866 650V900M915 700V1260M1112 540V1190M1178 360V780M1161 260V1130M1129 330V1260M1243 400V570M1293 260V640M1358 250V640"/>
<path class="b s7" d="M1047 620V1190M1063 580V1170M1080 600V1260M1260 370V640M1305 340V800M1325 300V620M1342 320V620M1375 215V320"/>
<path class="b s8" d="M1097 560V1150M1112 370V1130M1178 300V800M1193 290V820M1210 290V820M1243 280V840M1260 290V700M1276 330V720M1293 480V1155M1309 330V620M1325 370V800M1358 520V1125"/>
<path class="b s9" d="M210 660V1260M341 600V1260M571 540V1260M588 530V1260M686 478V1235M751 450V1205M800 525V1260M817 563V1260M850 565V1190M866 480V920M882 520V1000M899 450V920M915 465V1000M932 465V1220M964 505V1260M981 505V1260M997 515V1260M1014 560V930M1030 360V650M1047 400V865M1063 380V835M1080 365V780M1097 345V700M1129 500V830M1145 330V870M1161 450V800M1178 320V810M1193 500V1145M1210 420V855M1227 330V760M1243 360V720M1260 330V620M1276 290V560M1293 285V450M1309 280V500M1325 265V520M1342 250V470M1358 300V480"/>
<path class="d s0" d="M193 560h0M210 603h0M243 757h0M276 942h0M292 1020h0"/>
<path class="d s1" d="M193 240h0M210 240h0M227 228h0M243 232h0M260 232h0M276 242h0M292 283h0M308 310h0M325 322h0M341 355h0M358 448h0M375 538h0M391 565h0M489 625h0M538 700h0"/>
<path class="d s2" d="M227 775h0M243 735h0M260 590h0M276 522h0M292 388h0M308 340h0M325 325h0M341 300h0M358 260h0M375 240h0M391 238h0M407 222h0M424 222h0M440 222h0M457 222h0M473 225h0M489 292h0M505 288h0M522 290h0M538 320h0M555 345h0M571 375h0M588 473h0M604 525h0M670 625h0M898 715h0M1030 645h0M1112 447h0M1145 612h0M1227 680h0"/>
<path class="d s3" d="M375 850h0"/>
<path class="d s4" d="M489 725h0M505 700h0M522 745h0M538 600h0M555 628h0M588 665h0M604 685h0M620 533h0M637 733h0M653 688h0M670 725h0M686 613h0M702 575h0M719 772h0M768 545h0M784 762h0M817 703h0M833 760h0M882 797h0M948 755h0"/>
<path class="d s5" d="M489 410h0M505 400h0M522 385h0M538 365h0M555 320h0M571 290h0M588 265h0M604 245h0M620 268h0M637 232h0M653 228h0M670 245h0M686 262h0M702 235h0M719 230h0M735 222h0M751 230h0M768 245h0M784 225h0M800 232h0M817 235h0M833 230h0M850 235h0M866 255h0M882 238h0M899 260h0M915 245h0M932 232h0M948 230h0M964 228h0M981 240h0M997 228h0M1014 232h0M1030 262h0M1047 268h0M1063 250h0M1080 262h0M1097 280h0M1112 305h0M1129 320h0M1145 380h0M1161 420h0M1178 562h0M1193 522h0M1243 555h0M1260 628h0"/>
<path class="d s6" d="M866 678h0M915 737h0M1112 600h0M1178 385h0M1161 305h0M1129 382h0M1243 455h0M1293 303h0M1358 305h0"/>
<path class="d s7" d="M1047 668h0M1063 632h0M1080 655h0M1260 398h0M1305 380h0M1325 372h0M1342 350h0M1375 225h0"/>
<path class="d s8" d="M1097 630h0M1112 503h0M1178 365h0M1193 365h0M1210 360h0M1243 340h0M1260 350h0M1276 425h0M1293 630h0M1309 415h0M1325 503h0M1358 603h0"/>
<path class="d s9" d="M210 900h0M341 842h0M571 775h0M588 768h0M686 710h0M751 680h0M800 760h0M817 803h0M850 802h0M866 622h0M882 695h0M899 622h0M915 640h0M932 695h0M964 742h0M981 742h0M997 752h0M1014 628h0M1030 488h0M1047 568h0M1063 538h0M1080 497h0M1097 475h0M1129 638h0M1145 458h0M1178 462h0M1161 575h0M1193 622h0M1210 555h0M1227 423h0M1243 495h0M1260 435h0M1276 365h0M1293 360h0M1309 355h0M1325 325h0M1342 300h0M1358 372h0"/>
</g><rect class="ovr" x="3876.5" y="1246" width="58.5" height="427"/></g>
<g id="regions-text">
<text class="rt" x="2609" y="118">Region 1</text><text class="rt" x="3529" y="118">Region 2</text><text class="rt" x="2611" y="659">Region 3</text><text class="rt" x="3529" y="659">Region 4</text><text class="rt" x="2611" y="1201">Region 5</text><text class="rt" x="3529" y="1201">Region 6</text>
<text class="t m" transform="translate(2055 905) rotate(-90)">Proportion of SARS-CoV-2 variants (log10-scale)</text>
<text class="y" x="2141.5" y="177">10<tspan class="sp" dy="-17">0</tspan></text><text class="y" x="2141.5" y="313">10<tspan class="sp" dy="-17">−1</tspan></text><text class="y" x="2141.5" y="449">10<tspan class="sp" dy="-17">−2</tspan></text><text class="y" x="2141.5" y="585">10<tspan class="sp" dy="-17">−3</tspan></text>
<text class="y" x="2141.5" y="719">10<tspan class="sp" dy="-17">0</tspan></text><text class="y" x="2141.5" y="855">10<tspan class="sp" dy="-17">−1</tspan></text><text class="y" x="2141.5" y="991">10<tspan class="sp" dy="-17">−2</tspan></text><text class="y" x="2141.5" y="1127">10<tspan class="sp" dy="-17">−3</tspan></text>
<text class="y" x="2141.5" y="1261.5">10<tspan class="sp" dy="-17">0</tspan></text><text class="y" x="2141.5" y="1397">10<tspan class="sp" dy="-17">−1</tspan></text><text class="y" x="2141.5" y="1533">10<tspan class="sp" dy="-17">−2</tspan></text><text class="y" x="2141.5" y="1669">10<tspan class="sp" dy="-17">−3</tspan></text>
<text class="m" x="2203" y="1719">Jan</text><text class="m" x="2249" y="1719">Feb</text><text class="m" x="2291" y="1719">Mar</text><text class="m" x="2337" y="1719">Apr</text><text class="m" x="2382" y="1719">May</text><text class="m" x="2428" y="1719">Jun</text><text class="m" x="2474" y="1719">Jul</text><text class="m" x="2520" y="1719">Aug</text><text class="m" x="2566" y="1719">Sep</text><text class="m" x="2611" y="1719">Oct</text><text class="m" x="2657" y="1719">Nov</text><text class="m" x="2702" y="1719">Dec</text><text class="m" x="2749" y="1719">Jan</text><text class="m" x="2795" y="1719">Feb</text><text class="m" x="2837" y="1719">Mar</text><text class="m" x="2883" y="1719">Apr</text><text class="m" x="2928" y="1719">May</text><text class="m" x="2974" y="1719">Jun</text><text class="m" x="3019" y="1719">Jul</text>
<text class="m" x="3121.5" y="1719">Jan</text><text class="m" x="3167.5" y="1719">Feb</text><text class="m" x="3209.5" y="1719">Mar</text><text class="m" x="3255.5" y="1719">Apr</text><text class="m" x="3300.5" y="1719">May</text><text class="m" x="3346.5" y="1719">Jun</text><text class="m" x="3392.5" y="1719">Jul</text><text class="m" x="3438.5" y="1719">Aug</text><text class="m" x="3484.5" y="1719">Sep</text><text class="m" x="3529.5" y="1719">Oct</text><text class="m" x="3575.5" y="1719">Nov</text><text class="m" x="3620.5" y="1719">Dec</text><text class="m" x="3667.5" y="1719">Jan</text><text class="m" x="3713.5" y="1719">Feb</text><text class="m" x="3755.5" y="1719">Mar</text><text class="m" x="3801.5" y="1719">Apr</text><text class="m" x="3846.5" y="1719">May</text><text class="m" x="3892.5" y="1719">Jun</text><text class="m" x="3937.5" y="1719">Jul</text>
</g>
<g id="legend">
<text class="t" x="4766" y="545">SARS-CoV-2 variants</text>
<g id="key-delta"><rect class="r0" x="4768" y="573" width="66" height="66"/><path class="l s0" style="stroke-width:3.5" d="M4772 606H4830"/><path class="d s0" d="M4801 606h0"/><text class="k" x="4859" y="619">Delta</text></g>
<g id="key-ba1"><rect class="r1" x="4768" y="645" width="66" height="66"/><path class="l s1" style="stroke-width:3.5" d="M4772 678H4830"/><path class="d s1" d="M4801 678h0"/><text class="k" x="4859" y="691">Omicron (BA.1)</text></g>
<g id="key-ba2"><rect class="r2" x="4768" y="717" width="66" height="66"/><path class="l s2" style="stroke-width:3.5" d="M4772 750H4830"/><path class="d s2" d="M4801 750h0"/><text class="k" x="4859" y="763">Omicron (BA.2)</text></g>
<g id="key-ba12"><rect fill="#bfa8eb" opacity=".4" x="4768" y="789" width="66" height="66"/><path class="l s3" style="stroke-width:3.5" d="M4772 822H4830"/><path class="d s3" d="M4801 822h0"/><text class="k" x="4859" y="835">Omicron (BA.1 &amp; BA.2)</text></g>
<g id="key-ba4"><rect class="r4" x="4768" y="861" width="66" height="66"/><path class="l s4" style="stroke-width:3.5" d="M4772 894H4830"/><path class="d s4" d="M4801 894h0"/><text class="k" x="4859" y="907">Omicron (BA.4)</text></g>
<g id="key-ba5"><rect class="r5" x="4768" y="933" width="66" height="66"/><path class="l s5" style="stroke-width:3.5" d="M4772 966H4830"/><path class="d s5" d="M4801 966h0"/><text class="k" x="4859" y="979">Omicron (BA.5)</text></g>
<g id="key-ba275"><rect class="r6" x="4768" y="1005" width="66" height="66"/><path class="l s6" style="stroke-width:3.5" d="M4772 1038H4830"/><path class="d s6" d="M4801 1038h0"/><text class="k" x="4859" y="1051">Omicron (BA.2.75)</text></g>
<g id="key-xbb"><rect class="r7" x="4768" y="1077" width="66" height="66"/><path class="l s7" style="stroke-width:3.5" d="M4772 1110H4830"/><path class="d s7" d="M4801 1110h0"/><text class="k" x="4859" y="1123">Omicron (XBB)</text></g>
<g id="key-xbb15"><rect class="r8" x="4768" y="1149" width="66" height="66"/><path class="l s8" style="stroke-width:3.5" d="M4772 1182H4830"/><path class="d s8" d="M4801 1182h0"/><text class="k" x="4859" y="1195">Omicron (XBB.1.5)</text></g>
<g id="key-others"><rect class="r9" x="4768" y="1221" width="66" height="66"/><path class="l s9" style="stroke-width:3.5" d="M4772 1254H4830"/><path class="d s9" d="M4801 1254h0"/><text class="k" x="4859" y="1267">others</text></g>
</g>
</g>
</svg>
